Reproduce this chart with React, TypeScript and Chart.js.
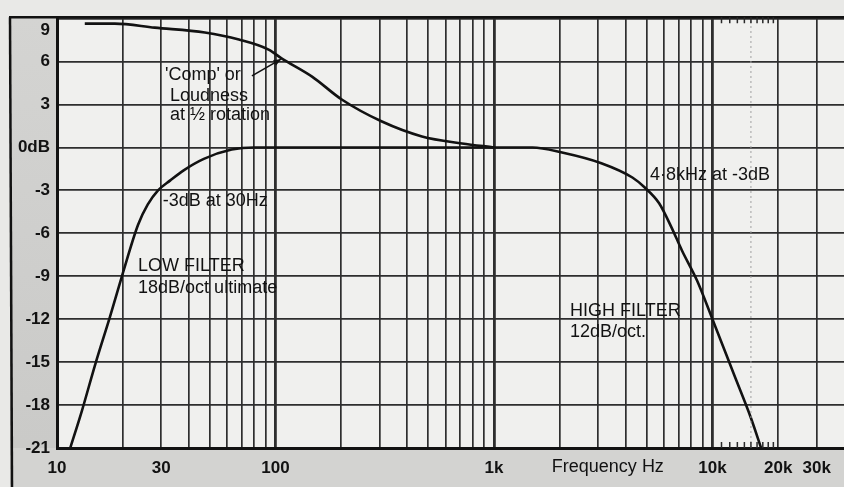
import React, { useEffect, useRef } from "react";
import { Chart, registerables } from "chart.js";

Chart.register(...registerables);

// ---- Axis grid / tick definitions ----
const xGridTicks = [
  10, 20, 30, 40, 50, 60, 70, 80, 90,
  100, 200, 300, 400, 500, 600, 700, 800, 900,
  1000, 2000, 3000, 4000, 5000, 6000, 7000, 8000, 9000,
  10000, 20000, 30000,
];
const xMajorTicks = [100, 1000, 10000];
const xTickValues = [10, 30, 100, 1000, 10000, 20000, 30000];
const xTickTexts = ["10", "30", "100", "1k", "10k", "20k", "30k"];

const yTickValues = [-21, -18, -15, -12, -9, -6, -3, 0, 3, 6, 9];
const yTickTexts = ["-21", "-18", "-15", "-12", "-9", "-6", "-3", "0dB", "3", "6", "9"];

// ---- Curves ----
// Filtered response: low filter (18 dB/oct) -> flat -> high filter (12 dB/oct)
const responseFreq = [
  11.5, 13, 15, 17.5, 20, 23.5, 26, 29, 33, 38, 47, 63, 80, 100, 200, 500,
  1000, 1500, 2050, 3100, 4300, 4900, 5700, 6500, 7250, 8500, 10000, 12500, 15000, 16700,
];
const responseDb = [
  -21, -18.4, -15.1, -11.8, -8.8, -5.4, -4.0, -3.0, -2.3, -1.6, -0.8, -0.15, 0, 0, 0, 0,
  0, 0, -0.35, -1.1, -2.1, -2.8, -3.9, -5.6, -7.2, -9.3, -12, -15.8, -18.9, -21,
];

// 'Comp' or Loudness at 1/2 rotation
const compFreq = [13.4, 18.4, 28, 47.5, 68, 93, 107, 147, 201, 307, 468, 714, 1000];
const compDb = [8.65, 8.65, 8.37, 8.03, 7.54, 6.84, 6.21, 4.95, 3.35, 1.81, 0.77, 0.28, 0];

// dotted 15k reference line and hash marks 11k..19k
const dottedLineFreq = 15000;
const hashMarkFreqs = [11000, 12000, 13000, 14000, 15000, 16000, 17000, 18000, 19000];

// ---- Annotation texts (anchored in data space: frequency, dB) ----
const annotationTexts = [
  "'Comp' or",
  "Loudness",
  "at ½ rotation",
  "-3dB at 30Hz",
  "LOW FILTER",
  "18dB/oct ultimate",
  "HIGH FILTER",
  "12dB/oct.",
  "4·8kHz at -3dB",
  "Frequency Hz",
];
const annotationFreqs = [31.2, 32.9, 32.9, 30.5, 23.5, 23.5, 2230, 2230, 5180, 1840];
const annotationDbs = [5.06, 3.6, 2.28, -3.72, -8.3, -9.85, -11.4, -12.9, -1.95, -21];
const annotationYOffsetPx = [0, 0, 0, 0, 0, 0, 0, 0, 0, 19];

const arrowFrom = { f: 78, db: 5.0 };
const arrowTo = { f: 106, db: 6.17 };

const Y_MIN = -21;
const Y_MAX = 9.1;
const X_MIN = 10;
const X_MAX = 40000;

const FONT = "'Liberation Sans', Arial, sans-serif";
const INK = "#121212";
const GRID = "#2e2e2e";

function pts(fs: number[], ds: number[]) {
  return fs.map((f, i) => ({ x: f, y: ds[i] }));
}

const paperPlugin = {
  id: "paper",
  beforeDraw(chart: any) {
    const { ctx, chartArea: a, width, height } = chart;
    ctx.save();
    ctx.fillStyle = "#e9e9e7";
    ctx.fillRect(0, 0, width, height);
    const g = ctx.createLinearGradient(0, a.top, 0, height);
    g.addColorStop(0, "#d4d4d2");
    g.addColorStop(1, "#c9c9c7");
    ctx.fillStyle = g;
    ctx.fillRect(10, a.top, a.left - 10, height - a.top);
    ctx.fillStyle = "#d3d3d1";
    ctx.fillRect(10, a.bottom, width - 10, height - a.bottom);
    ctx.fillStyle = "#f0f0ee";
    ctx.fillRect(a.left, a.top, a.right - a.left, a.bottom - a.top);
    ctx.restore();
  },
  afterDraw(chart: any) {
    const { ctx, chartArea: a, height, width } = chart;
    const xs = chart.scales.x;
    const ys = chart.scales.y;
    ctx.save();
    // outer frame
    ctx.strokeStyle = INK;
    ctx.lineWidth = 2.5;
    ctx.beginPath();
    ctx.moveTo(9, a.top);
    ctx.lineTo(width, a.top);
    ctx.stroke();
    ctx.beginPath();
    ctx.moveTo(10, a.top);
    ctx.lineTo(12, height);
    ctx.stroke();

    // top y label "9" sits just below its line in the original
    ctx.fillStyle = INK;
    ctx.font = `bold 17px ${FONT}`;
    ctx.textAlign = "right";
    ctx.textBaseline = "middle";
    ctx.fillText(yTickTexts[yTickTexts.length - 1], a.left - 7, ys.getPixelForValue(9) + 12);

    // hash marks
    ctx.lineWidth = 1.5;
    ctx.strokeStyle = "#2a2a2a";
    hashMarkFreqs.forEach((f) => {
      const px = xs.getPixelForValue(f);
      ctx.beginPath();
      ctx.moveTo(px, a.top);
      ctx.lineTo(px, a.top + 6);
      ctx.moveTo(px, a.bottom);
      ctx.lineTo(px, a.bottom - 6);
      ctx.stroke();
    });

    // annotation texts
    ctx.fillStyle = INK;
    ctx.textBaseline = "middle";
    ctx.textAlign = "left";
    ctx.font = `18px ${FONT}`;
    annotationTexts.forEach((t, i) => {
      const px = xs.getPixelForValue(annotationFreqs[i]);
      const py = ys.getPixelForValue(annotationDbs[i]) + annotationYOffsetPx[i];
      ctx.fillText(t, px, py);
    });

    // arrow
    const x1 = xs.getPixelForValue(arrowFrom.f);
    const y1 = ys.getPixelForValue(arrowFrom.db);
    const x2 = xs.getPixelForValue(arrowTo.f);
    const y2 = ys.getPixelForValue(arrowTo.db);
    ctx.strokeStyle = INK;
    ctx.lineWidth = 1.6;
    ctx.beginPath();
    ctx.moveTo(x1, y1);
    ctx.lineTo(x2, y2);
    ctx.stroke();
    const ang = Math.atan2(y2 - y1, x2 - x1);
    const L = 8;
    ctx.beginPath();
    ctx.moveTo(x2, y2);
    ctx.lineTo(x2 - L * Math.cos(ang - 0.4), y2 - L * Math.sin(ang - 0.4));
    ctx.lineTo(x2 - L * Math.cos(ang + 0.4), y2 - L * Math.sin(ang + 0.4));
    ctx.closePath();
    ctx.fillStyle = INK;
    ctx.fill();
    ctx.restore();
  },
};

export default function App() {
  const ref = useRef<HTMLCanvasElement | null>(null);

  useEffect(() => {
    if (!ref.current) return;
    const chart = new Chart(ref.current, {
      type: "line",
      data: {
        datasets: [
          {
            label: "15 kHz",
            data: [
              { x: dottedLineFreq, y: Y_MIN },
              { x: dottedLineFreq, y: Y_MAX },
            ],
            borderColor: "#a0a0a0",
            borderWidth: 1,
            borderDash: [2, 3],
            pointRadius: 0,
          },
          {
            label: "Response with filters",
            data: pts(responseFreq, responseDb),
            borderColor: INK,
            borderWidth: 2.6,
            pointRadius: 0,
            cubicInterpolationMode: "monotone",
          },
          {
            label: "'Comp' or Loudness",
            data: pts(compFreq, compDb),
            borderColor: INK,
            borderWidth: 2.6,
            pointRadius: 0,
            cubicInterpolationMode: "monotone",
          },
        ],
      },
      options: {
        animation: false,
        responsive: false,
        devicePixelRatio: 1,
        layout: { padding: { top: 16, left: 0, right: 0, bottom: 0 } },
        plugins: { legend: { display: false }, tooltip: { enabled: false } },
        scales: {
          x: {
            type: "logarithmic",
            min: X_MIN,
            max: X_MAX,
            afterBuildTicks: (s: any) => {
              s.ticks = xGridTicks.map((v) => ({ value: v }));
            },
            afterFit: (s: any) => {
              s.height = 39;
            },
            ticks: {
              autoSkip: false,
              maxRotation: 0,
              padding: 10,
              color: INK,
              font: { family: FONT, size: 17, weight: "bold" },
              callback: (v: any) => {
                const i = xTickValues.indexOf(Number(v));
                return i >= 0 ? xTickTexts[i] : "";
              },
            },
            grid: {
              color: GRID,
              drawTicks: false,
              lineWidth: (c: any) =>
                c.tick && xMajorTicks.includes(c.tick.value) ? 2.8 : 1.7,
            },
            border: { color: INK, width: 3 },
          },
          y: {
            type: "linear",
            min: Y_MIN,
            max: Y_MAX,
            afterBuildTicks: (s: any) => {
              s.ticks = yTickValues.map((v) => ({ value: v }));
            },
            afterFit: (s: any) => {
              s.width = 57;
            },
            ticks: {
              autoSkip: false,
              padding: 7,
              color: INK,
              font: { family: FONT, size: 17, weight: "bold" },
              callback: (v: any) => {
                const n = Number(v);
                if (n === 9) return "";
                const i = yTickValues.indexOf(n);
                return i >= 0 ? yTickTexts[i] : "";
              },
            },
            grid: { color: GRID, drawTicks: false, lineWidth: 1.8 },
            border: { color: INK, width: 3 },
          },
        },
      },
      plugins: [paperPlugin],
    } as any);
    return () => chart.destroy();
  }, []);

  return (
    <div style={{ position: "absolute", left: 0, top: 0, width: 844, height: 487 }}>
      <canvas ref={ref} width={844} height={487} />
    </div>
  );
}
